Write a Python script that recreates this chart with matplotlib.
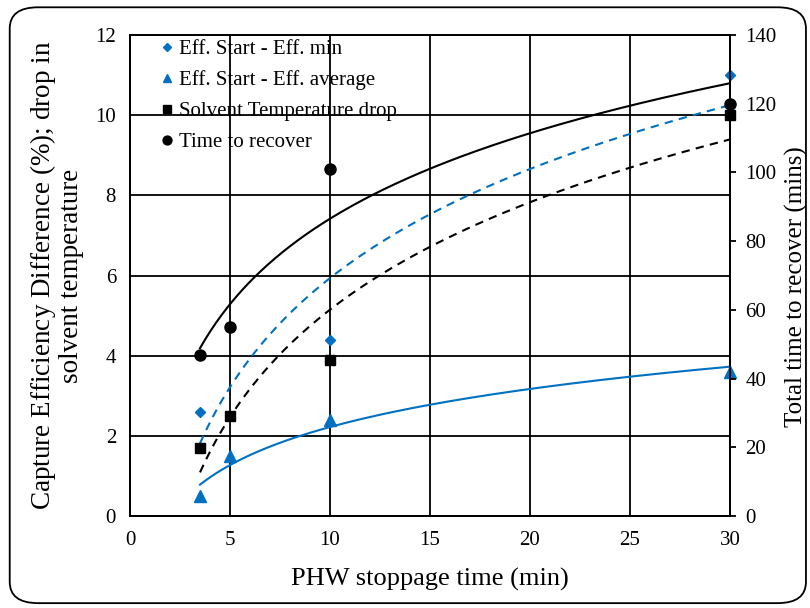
import numpy as np
import matplotlib
matplotlib.use("Agg")
import matplotlib.pyplot as plt
from matplotlib.patches import FancyBboxPatch

plt.rcParams['font.family'] = ['Liberation Serif', 'DejaVu Serif']
plt.rcParams['mathtext.fontset'] = 'custom'
plt.rcParams['mathtext.it'] = 'Liberation Serif:italic'
plt.rcParams['mathtext.rm'] = 'Liberation Serif'

# Data
x_min = [3.5, 10, 30]
eff_min = [2.6, 4.4, 11.0]
x_all = [3.5, 5, 10, 30]
eff_avg = [0.5, 1.5, 2.4, 3.6]
temp_drop = [1.7, 2.5, 3.9, 10.0]
time_recover = [47, 55, 101, 120]

xticks = [0, 5, 10, 15, 20, 25, 30]
yticks_left = [0, 2, 4, 6, 8, 10, 12]
yticks_right = [0, 20, 40, 60, 80, 100, 120, 140]

blue = '#0070C0'

def logfit(x, y):
    x = np.asarray(x, float); y = np.asarray(y, float)
    a, b = np.polyfit(np.log(x), y, 1)
    xs = np.linspace(x.min(), x.max(), 200)
    return xs, a * np.log(xs) + b

fig = plt.figure(figsize=(8.1, 6.08), dpi=100)
border = FancyBboxPatch((0.012, 0.008), 0.983, 0.98, boxstyle="round,pad=0,rounding_size=0.035",
                        transform=fig.transFigure, fill=False, edgecolor='black', linewidth=1.3)
fig.patches.append(border)

ax = fig.add_axes([0.1605, 0.1513, 0.7407, 0.7911])
ax2 = ax.twinx()

ax.set_xlim(0, 30)
ax.set_ylim(0, 12)
ax2.set_ylim(0, 140)
ax.set_xticks(xticks)
ax.set_yticks(yticks_left)
ax2.set_yticks(yticks_right)
ax.grid(True, color='black', linewidth=1.3)
ax.set_axisbelow(True)

# trendlines (logarithmic fits of the data)
xs, ys = logfit(x_min, eff_min)
ax.plot(xs, ys, color=blue, linestyle=(0, (4, 3)), linewidth=1.5)
xs, ys = logfit(x_all, eff_avg)
ax.plot(xs, ys, color=blue, linestyle='-', linewidth=1.5)
xs, ys = logfit(x_all, temp_drop)
ax.plot(xs, ys, color='black', linestyle=(0, (4, 3)), linewidth=1.5)
xs, ys = logfit(x_all, time_recover)
ax2.plot(xs, ys, color='black', linestyle='-', linewidth=1.5)

# markers
h1, = ax.plot(x_min, eff_min, 'D', color=blue, markersize=5.5, linestyle='none', label='Eff. Start - Eff. min', clip_on=False, zorder=5)
h2, = ax.plot(x_all, eff_avg, '^', color=blue, markersize=8, linestyle='none', label='Eff. Start - Eff. average', clip_on=False, zorder=5)
h3, = ax.plot(x_all, temp_drop, 's', color='black', markersize=7.5, linestyle='none', label='Solvent Temperature drop', clip_on=False, zorder=5)
h4, = ax2.plot(x_all, time_recover, 'o', color='black', markersize=8, linestyle='none', label='Time to recover', clip_on=False, zorder=5)

for a in (ax, ax2):
    for s in a.spines.values():
        s.set_linewidth(1.3)
ax.tick_params(axis='x', labelsize=15, length=0, pad=11)
ax.tick_params(axis='y', labelsize=15, length=0, pad=10)
ax2.tick_params(axis='y', labelsize=15, direction='out', length=4, width=1.3, pad=7)

ax.set_xlabel('PHW stoppage time (min)', fontsize=19, labelpad=13)
ax.set_ylabel('Capture Efficiency Difference ($\\mathit{\\%}$); drop in\nsolvent temperature',
              fontsize=19.5, linespacing=1.05, labelpad=8)
ax2.set_ylabel('Total time to recover (mins)', fontsize=18)
ax2.yaxis.set_label_coords(1.092, 0.476)

leg = ax.legend(handles=[h1, h2, h3, h4], loc='upper left', bbox_to_anchor=(0.022, 1.03),
                frameon=False, fontsize=15, handlelength=0.5, handletextpad=0.3, labelspacing=0.55,
                markerscale=0.8)

fig.savefig('out.png', dpi=100)
